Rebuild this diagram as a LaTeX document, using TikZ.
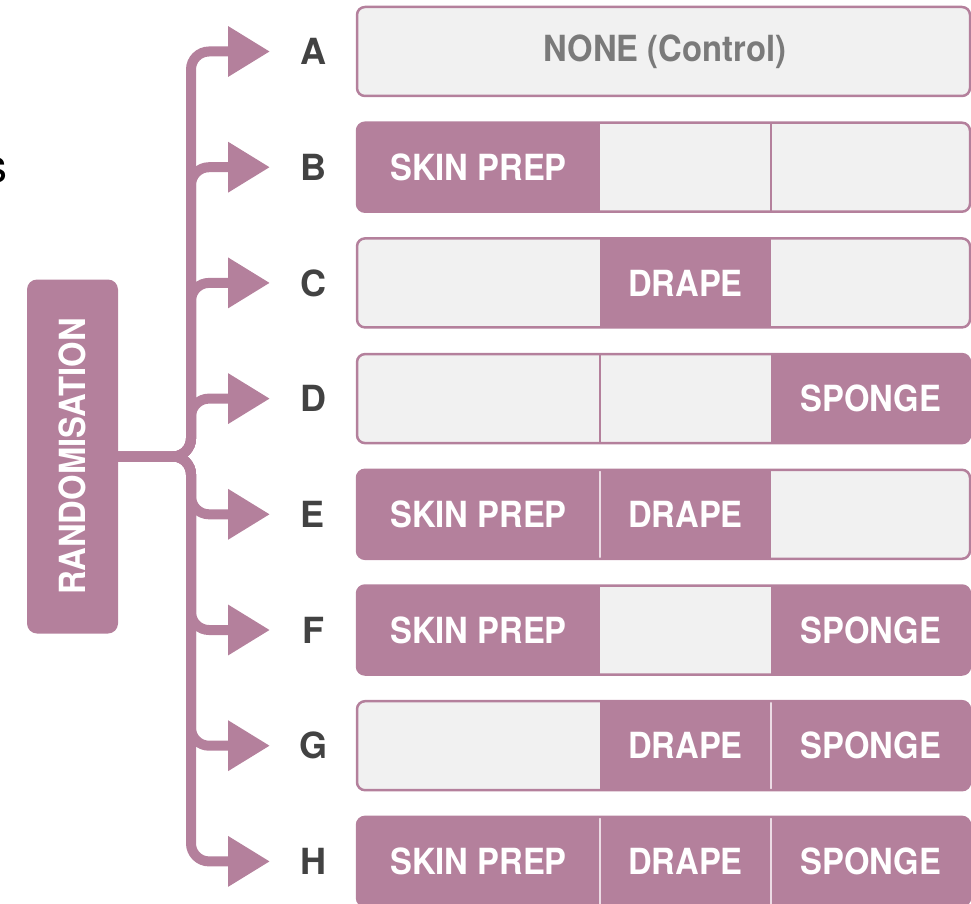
\documentclass[tikz,border=0pt]{standalone}
\usepackage{fontspec}
\setmainfont{TeX Gyre Heros}
\usetikzlibrary{arrows.meta}
\definecolor{mauve}{RGB}{180,128,156}
\definecolor{cellgray}{RGB}{241,241,241}
\definecolor{labelgray}{RGB}{66,66,66}
\definecolor{nonegray}{RGB}{122,122,122}
\definecolor{seppink}{RGB}{236,220,229}
\newcommand\cnd[1]{\scalebox{0.91}[1]{#1}}
\begin{document}
\begin{tikzpicture}[x=1pt,y=-1pt,
  bigfont/.style={font=\fontsize{36}{36}\selectfont\bfseries},
  ctext/.style={bigfont,text=white,inner sep=0pt},
  lab/.style={bigfont,text=labelgray,inner sep=0pt},
  frame/.style={draw=mauve,line width=2.5pt,rounded corners=8pt},
  branch/.style={draw=mauve,line width=10pt,rounded corners=18pt,
    -{Triangle[length=42pt,width=48pt]}},
  randbox/.style={fill=mauve,rounded corners=10pt,minimum width=91pt,
    minimum height=354pt,inner sep=0pt,text=white,bigfont}]
\useasboundingbox (0,0) rectangle (971,904);

% partially cut letter at the left edge
\node[font=\fontsize{46}{46}\selectfont,text=black,inner sep=0pt] (cut) at (-3.5,170) {s};

% rows of cells
\foreach \yt/\ca/\cb/\cc/\da/\db in {
  7/cellgray/cellgray/cellgray/none/none,
  122.7/mauve/cellgray/cellgray/none/mauve,
  238.4/cellgray/mauve/cellgray/none/none,
  354.1/cellgray/cellgray/mauve/mauve/none,
  469.8/mauve/mauve/cellgray/seppink/none,
  585.5/mauve/cellgray/mauve/none/none,
  701.2/cellgray/mauve/mauve/none/seppink,
  816.9/mauve/mauve/mauve/seppink/seppink}
{
  \begin{scope}
    \clip[rounded corners=8pt] (357,\yt) rectangle ++(613,89);
    \fill[fill=\ca] (357,\yt) rectangle ++(243,89);
    \fill[fill=\cb] (600,\yt) rectangle ++(171,89);
    \fill[fill=\cc] (771,\yt) rectangle ++(199,89);
    \draw[line width=2.5pt,draw=\da] (600,\yt) -- ++(0,89);
    \draw[line width=2.5pt,draw=\db] (771,\yt) -- ++(0,89);
  \end{scope}
  \draw[frame] (357,\yt) rectangle ++(613,89);
}

% cell texts
\node[bigfont,text=nonegray,inner sep=0pt] (A0) at (665,51.5) {\cnd{NONE (Control)}};
\node[ctext] (B1) at (478.5,167.2) {\cnd{SKIN PREP}};
\node[ctext] (C2) at (685.5,282.9) {\cnd{DRAPE}};
\node[ctext] (D3) at (871,398.6) {\cnd{SPONGE}};
\node[ctext] (E1) at (478.5,514.3) {\cnd{SKIN PREP}};
\node[ctext] (E2) at (685.5,514.3) {\cnd{DRAPE}};
\node[ctext] (F1) at (478.5,630) {\cnd{SKIN PREP}};
\node[ctext] (F3) at (871,630) {\cnd{SPONGE}};
\node[ctext] (G2) at (685.5,745.7) {\cnd{DRAPE}};
\node[ctext] (G3) at (871,745.7) {\cnd{SPONGE}};
\node[ctext] (H1) at (478.5,861.4) {\cnd{SKIN PREP}};
\node[ctext] (H2) at (685.5,861.4) {\cnd{DRAPE}};
\node[ctext] (H3) at (871,861.4) {\cnd{SPONGE}};

% row labels
\foreach \n/\y in {A/51.5,B/167.2,C/282.9,D/398.6,E/514.3,F/630,G/745.7,H/861.4}{
  \node[lab] (l\n) at (313,\y) {\n};
  \coordinate (t\n) at (270,\y);
}

% randomisation box
\node[randbox] (rand) at (72.5,456.5) {\rotatebox{90}{\cnd{RANDOMISATION}}};
\coordinate (junc) at (191,456.5);

% branches
\foreach \n in {A,B,C,D,E,F,G,H}{
  \draw[branch] (rand.east) -- (junc) |- (t\n);
}
\end{tikzpicture}
\end{document}
